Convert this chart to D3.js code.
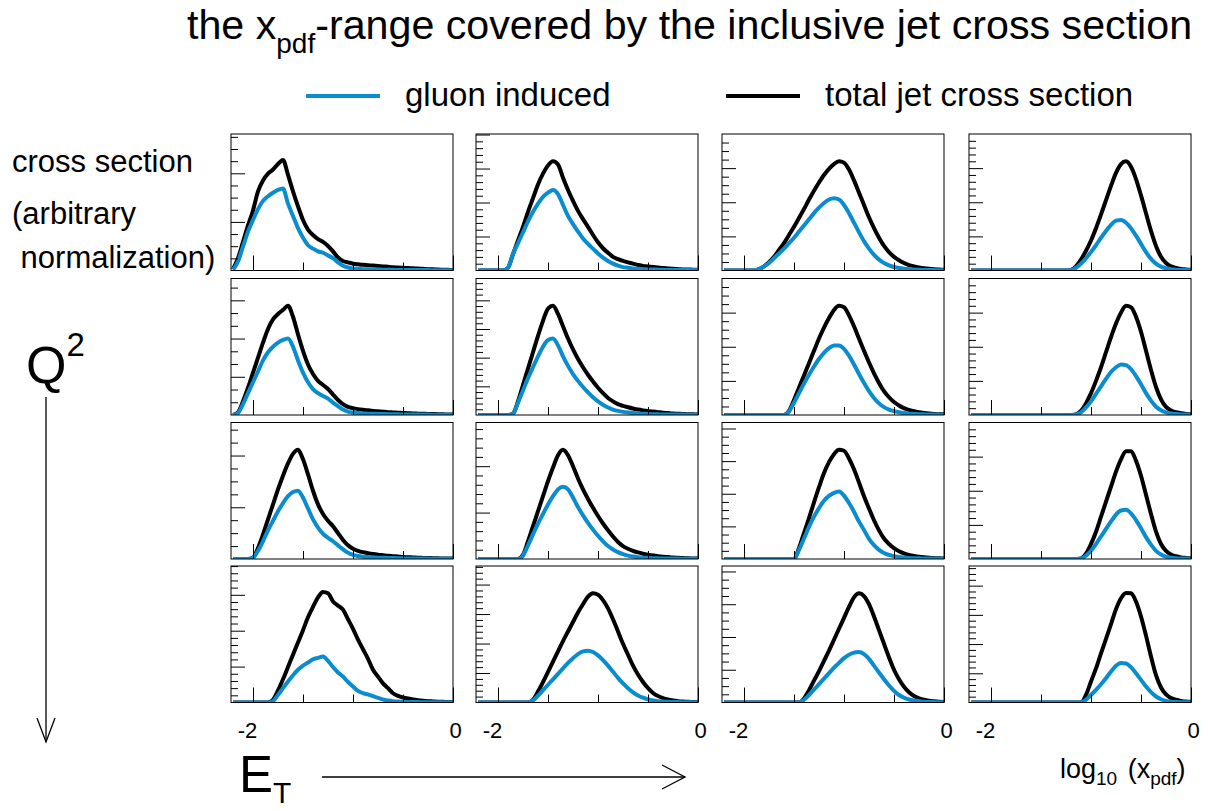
<!DOCTYPE html>
<html>
<head>
<meta charset="utf-8">
<script src="https://cdn.jsdelivr.net/npm/d3@7/dist/d3.min.js"></script>
<style>
  body { margin: 0; background: #fff; }
  svg { display: block; }
  text { font-family: "Liberation Sans", Arial, Helvetica, sans-serif; fill: #000; }
</style>
</head>
<body>
<svg id="chart" width="1208" height="811"></svg>
<script>
// log10(x_pdf) bin centres shared by every panel
const xBins = [-2.2,-2.15,-2.1,-2.05,-2.0,-1.95,-1.9,-1.85,-1.8,-1.75,-1.7,-1.65,-1.6,-1.55,-1.5,
  -1.45,-1.4,-1.35,-1.3,-1.25,-1.2,-1.15,-1.1,-1.05,-1.0,-0.95,-0.9,-0.85,-0.8,-0.75,-0.7,
  -0.65,-0.6,-0.55,-0.5,-0.45,-0.4,-0.35,-0.3,-0.25,-0.2,-0.15,-0.1,-0.05,0.0];

// total jet cross section, panel (Q2 row, ET column), arbitrary normalization
const tot11 = [1,9,21,33,44,58,66,71,74,78,81,70,58,47,37,30,26,23,21,18,14,9.5,7,6,5,4.5,4.2,3.9,3.6,3.3,3.0,2.7,2.4,2.2,2.0,1.8,1.6,1.4,1.2,1.0,0.9,0.7,0.6,0.5,0.4];
const tot12 = [0,0,0,0,0,0,2,12,22,32,43,53,63,71,77,80,77.6,68,59,51,43.7,37.6,32,26,20.7,16.3,13,10,8.3,7,6,5,4,3.4,3,2.6,2.2,1.8,1.5,1.2,1.0,0.8,0.7,0.6,0.5];
const tot13 = [0,0,0,0,0,0,0,1,3,6,10,15,20,26,32,38.5,45,52,58.5,64.5,70,74.5,78,80,79,74,66,57,48,39,31,24,18,13.5,10,7.5,5.5,4,3,2.2,1.6,1.2,0.9,0.7,0.5];
const tot14 = [0,0,0,0,0,0,0,0,0,0,0,0,0,0,0,0,0,0,0,0,0.5,3,8,14.5,22,31,41,51.5,62,71.5,78,80,76,67,55,42,29,18,10,5.5,3,1.9,1.2,0.8,0.5];
const tot21 = [0,2,10,20,31,42,53,63,70,74,77,80,72,59,47,37,30,25,22,19,15,11,8,6,5,4.3,3.8,3.4,3,2.7,2.4,2.1,1.9,1.7,1.5,1.3,1.1,1.0,0.9,0.8,0.7,0.6,0.5,0.4,0.3];
const tot22 = [0,0,0,0,0,0,0,1,10,22,34,46,58,69,78,80,74,65,56,48,41,35,29.5,24.5,20,16,12.5,10,8,6.7,5.7,4.8,4,3.4,2.9,2.5,2.1,1.7,1.4,1.1,0.9,0.7,0.6,0.5,0.4];
const tot23 = [0,0,0,0,0,0,0,0,0,0,0,0,0,3,11,20,29,38,47,56,64,71,77,80,79,73,65,56,47,38.5,30.5,23.5,17.5,13,9.5,7,5,3.7,2.7,2,1.5,1.1,0.8,0.6,0.5];
const tot24 = [0,0,0,0,0,0,0,0,0,0,0,0,0,0,0,0,0,0,0,0,0,0.5,3,8.5,16,25,35,46,57,67,75,80,79,72,61,47,33,20.5,11.5,6,3.3,2,1.3,0.8,0.5];
const tot31 = [0,0,0,0,1,8,18,29,40,51,61,70,77,80,73,62,50,40,33,28,24,19,14,10,7.5,6,5,4.3,3.7,3.2,2.8,2.4,2.1,1.8,1.5,1.3,1.1,0.9,0.8,0.7,0.6,0.5,0.4,0.3,0.3];
const tot32 = [0,0,0,0,0,0,0,0,0,3,13,24,35,46,57,67,76,80,76,68,59,51,44,37.5,31.5,26,21,16.5,12.5,9.5,7.5,6,4.8,3.9,3.2,2.6,2.1,1.7,1.4,1.1,0.9,0.7,0.5,0.4,0.3];
const tot33 = [0,0,0,0,0,0,0,0,0,0,0,0,0,0,0,8,19,30,41.5,52.6,63,71,76.8,80,79.3,73.6,65.7,56,46,37,28.4,21,15,11,8,5.7,4.2,3,2.2,1.6,1.2,0.9,0.7,0.5,0.4];
const tot34 = [0,0,0,0,0,0,0,0,0,0,0,0,0,0,0,0,0,0,0,0,0,0,0.5,4,11,20,31,42,53,64,73,79,79,72,61,47,33,20,11,6,3.3,2,1.2,0.8,0.5];
const tot41 = [0,0,0,0,0,0,0,0,2,8.8,17,26,35,44,53,62.5,70,77,81,80,74,71,68,61,54,46,39,32,24,19,14,10.5,6.8,4.9,3.7,2.9,2.2,1.7,1.3,1.0,0.8,0.6,0.5,0.4,0.3];
const tot42 = [0,0,0,0,0,0,0,0,0,0,0,2,8,15,22.5,30,37.5,45,52,59,66,72,77.5,80,79,75,69,61,52,43,35,27,20.5,15,10.5,7,4.7,3.2,2.2,1.5,1.0,0.7,0.5,0.4,0.3];
const tot43 = [0,0,0,0,0,0,0,0,0,0,0,0,0,0,0,0,3,9,16,23,30.5,38,46,54,62,70,77,80,78,72,63,53,43,33,24,17,11.5,7.5,4.8,3.1,2,1.3,0.9,0.6,0.4];
const tot44 = [0,0,0,0,0,0,0,0,0,0,0,0,0,0,0,0,0,0,0,0,0,0,0,5.6,15.4,25,36,46.6,57.4,68.4,76.4,80.3,80,74,63,49,33.7,20,11,5.9,3.2,2,1.2,0.7,0.5];

// gluon-induced part of the same cross sections
const glu11 = [0.5,6.6,17.6,28.5,37,45,51,54.4,57,59,60,49,40,31,24,18.5,16,14,13,11,9,6,3.5,2.2,1.5,1.2,1.0,0.9,0.8,0.7,0.6,0.5,0.5,0.4,0.4,0.4,0.3,0.3,0.3,0.3,0.2,0.2,0.2,0.2,0.2];
const glu12 = [0,0,0,0,0,0,2,12,20,28,36,43,49,54,57,59,56,48,40,34,28.5,23.5,19.5,16,12.5,9.5,7,5,3.5,2.5,2,1.5,1.2,1.0,0.8,0.7,0.6,0.5,0.4,0.4,0.3,0.3,0.3,0.3,0.3];
const glu13 = [0,0,0,0,0,0,0,1,3,5.5,9,12.5,16,20,24,28.5,33,37.5,42,46,49.5,52,53,52,48,42,35,28,21.5,16,11.5,8,5.5,3.8,2.6,1.8,1.3,1.0,0.7,0.5,0.4,0.3,0.3,0.2,0.2];
const glu14 = [0,0,0,0,0,0,0,0,0,0,0,0,0,0,0,0,0,0,0,0,0.3,2,5,9,13.5,18.5,24,29,33.5,36.5,37,35,31,25.5,19.5,13.5,8.5,5,2.8,1.6,1,0.6,0.4,0.3,0.2];
const glu21 = [0,1.5,8,16,24,32,40,46,50,53,55,56,50,40,31,24,19,16,14,12,9,6.5,4,2.5,1.8,1.4,1.1,1,0.9,0.8,0.7,0.6,0.5,0.5,0.4,0.4,0.3,0.3,0.3,0.3,0.2,0.2,0.2,0.2,0.2];
const glu22 = [0,0,0,0,0,0,0,1,9,18,27,35,43,50,55,56,51,43,36,30,25,20.5,16.5,13,10,7.5,5.5,4,3,2.3,1.8,1.4,1.1,0.9,0.7,0.6,0.5,0.4,0.4,0.3,0.3,0.3,0.2,0.2,0.2];
const glu23 = [0,0,0,0,0,0,0,0,0,0,0,0,0,2.5,9,16,23,29.5,35.5,41,45.5,49,51,51,48.5,43.5,37,30,23.5,17.5,12.5,8.5,5.8,4,2.8,2,1.4,1,0.8,0.6,0.5,0.4,0.3,0.2,0.2];
const glu24 = [0,0,0,0,0,0,0,0,0,0,0,0,0,0,0,0,0,0,0,0,0,0.3,2,5.5,10,15.5,21,26.5,31.5,35,37,36.5,33.5,28.5,22.5,16,10.5,6,3.4,1.9,1.1,0.7,0.4,0.3,0.2];
const glu31 = [0,0,0,0,1,6,13,21,28,35,41,46,49,50,45,37,29,23,18.5,15.5,13,10,7,4.5,3,2.2,1.7,1.4,1.2,1,0.9,0.8,0.7,0.6,0.5,0.4,0.4,0.3,0.3,0.3,0.2,0.2,0.2,0.2,0.2];
const glu32 = [0,0,0,0,0,0,0,0,0,2.5,10,18,26,33,40,46,51,53,51,45,38,32,26.5,21.5,17,13,9.5,7,5,3.5,2.5,1.8,1.3,1.0,0.8,0.6,0.5,0.4,0.4,0.3,0.3,0.2,0.2,0.2,0.2];
const glu33 = [0,0,0,0,0,0,0,0,0,0,0,0,0,0,0,6.7,15,23.5,31,37.3,42.7,46.2,48.4,49.4,46.4,41,34.6,27.4,21.2,14.8,10.1,6.7,4.4,3,2,1.5,1.1,0.8,0.6,0.5,0.4,0.3,0.3,0.2,0.2];
const glu34 = [0,0,0,0,0,0,0,0,0,0,0,0,0,0,0,0,0,0,0,0,0,0,0.3,2.5,6,11,16.5,22,27.5,32.5,35.5,36,33.5,28.5,22.5,16,10.5,6,3.3,1.8,1,0.6,0.4,0.3,0.2];
const glu41 = [0,0,0,0,0,0,0,0,1,5.6,10.5,15.4,20,24,27,29.3,31.7,32.7,33.7,30.5,26,22,19,15,11.7,8.5,6.8,5.9,4.6,3.4,2.2,1.5,1.0,0.7,0.5,0.4,0.3,0.3,0.2,0.2,0.2,0.2,0.2,0.2,0.2];
const glu42 = [0,0,0,0,0,0,0,0,0,0,0,1.5,5,9,13,17,21,25,29,32.5,35.5,37.5,38,37,34.5,31,27,22.5,18,14,10.5,7.5,5.2,3.5,2.3,1.5,1.0,0.7,0.5,0.4,0.3,0.2,0.2,0.1,0.1];
const glu43 = [0,0,0,0,0,0,0,0,0,0,0,0,0,0,0,0,2,5.5,9.5,13.5,17.5,21.5,25.5,29,32.5,35,36.5,37,35.5,32,27,22,17,12.5,8.5,5.5,3.5,2.2,1.4,0.9,0.6,0.4,0.3,0.2,0.1];
const glu44 = [0,0,0,0,0,0,0,0,0,0,0,0,0,0,0,0,0,0,0,0,0,0,0,2,5.6,9.3,13.4,17.8,22.7,26.9,29,28.6,25.9,21.5,16.6,11.7,7.6,4.4,2.4,1.2,0.6,0.3,0.2,0.1,0.1];

const totalSeries = [[tot11,tot12,tot13,tot14],[tot21,tot22,tot23,tot24],[tot31,tot32,tot33,tot34],[tot41,tot42,tot43,tot44]];
const gluonSeries = [[glu11,glu12,glu13,glu14],[glu21,glu22,glu23,glu24],[glu31,glu32,glu33,glu34],[glu41,glu42,glu43,glu44]];

// y-axis tick spacing of each panel (major step, number of minor divisions)
const yMajorStep = [[35.6,24.9,25,25],[28,21,25,25],[37.9,34,23.9,25],[26.3,21.6,24,21.4]];
const yMinorDiv  = [[4,5,4,5],[3,5,4,5],[4,5,4,5],[5,5,4,5]];

const xTickMajor = [-2, 0];
const xTickMinor = [-1.5, -1, -0.5];
const xTickLabels = ["-2", "0"];

const legendLabels = ["gluon induced", "total jet cross section"];
const yLabelLines = ["cross section", "(arbitrary", " normalization)"];

// ---------------------------------------------------------------- layout
const svg = d3.select("#chart");
const colLeft = [231, 476, 722, 969];
const rowTop = [134, 278.5, 422.5, 566];
const panelW = 222, panelH = 136.5;
const blue = "#0a8dcf";

const x = d3.scaleLinear().domain([-2.22, 0]).range([0, panelW]);
const y = d3.scaleLinear().domain([0, 100]).range([panelH, 0]);

const line = d3.line()
  .x((d, i) => x(xBins[i]))
  .y(d => y(d))
  .curve(d3.curveMonotoneX);

const defs = svg.append("defs");
defs.append("clipPath").attr("id", "frameClip")
  .append("rect").attr("x", 0).attr("y", 0).attr("width", panelW).attr("height", panelH);

for (let r = 0; r < 4; r++) {
  for (let c = 0; c < 4; c++) {
    const g = svg.append("g").attr("transform", `translate(${colLeft[c]},${rowTop[r]})`);

    const curves = g.append("g").attr("clip-path", "url(#frameClip)");
    curves.append("path").datum(totalSeries[r][c])
      .attr("d", line).attr("fill", "none").attr("stroke", "#000")
      .attr("stroke-width", 4).attr("stroke-linejoin", "round");
    curves.append("path").datum(gluonSeries[r][c])
      .attr("d", line).attr("fill", "none").attr("stroke", blue)
      .attr("stroke-width", 4).attr("stroke-linejoin", "round");

    // y ticks (no labels)
    const step = yMajorStep[r][c], div = yMinorDiv[r][c];
    const minorVals = [], majorVals = [];
    for (let k = 1; k * step / div < 100; k++) {
      if (k % div === 0) majorVals.push(k * step / div); else minorVals.push(k * step / div);
    }
    const yMinorAxis = d3.axisRight(y).tickValues(minorVals).tickSize(7).tickFormat("");
    const yMajorAxis = d3.axisRight(y).tickValues(majorVals).tickSize(14).tickFormat("");
    g.append("g").call(yMinorAxis).call(a => a.select(".domain").remove());
    g.append("g").call(yMajorAxis).call(a => a.select(".domain").remove());

    // x ticks, pointing into the frame
    const xMajorAxis = d3.axisTop(x).tickValues(xTickMajor).tickSize(15).tickFormat("");
    const xMinorAxis = d3.axisTop(x).tickValues(xTickMinor).tickSize(8).tickFormat("");
    g.append("g").attr("transform", `translate(0,${panelH})`).call(xMajorAxis).call(a => a.select(".domain").remove());
    g.append("g").attr("transform", `translate(0,${panelH})`).call(xMinorAxis).call(a => a.select(".domain").remove());

    g.selectAll(".tick line").attr("stroke", "#000").attr("stroke-width", 1);

    g.append("rect").attr("width", panelW).attr("height", panelH)
      .attr("fill", "none").attr("stroke", "#000").attr("stroke-width", 1);

    if (r === 3) {
      const labAxis = d3.axisBottom(x).tickValues(xTickMajor).tickSize(0).tickPadding(20)
        .tickFormat((d, i) => xTickLabels[i]);
      const la = g.append("g").attr("transform", `translate(0,${panelH})`).call(labAxis);
      la.select(".domain").remove();
      la.selectAll("text").attr("font-size", 22).attr("font-family", null)
        .attr("dx", d => d < 0 ? -6 : 2);
    }
  }
}

// title
const title = svg.append("text").attr("x", 187).attr("y", 39).attr("font-size", 41.2);
title.append("tspan").text("the x");
title.append("tspan").attr("font-size", 28).attr("dy", 14).text("pdf");
title.append("tspan").attr("dy", -14).text("-range covered by the inclusive jet cross section");

// legend
const legendColors = [blue, "#000"];
const legendX = [306, 726];
legendLabels.forEach((lab, i) => {
  svg.append("line").attr("x1", legendX[i]).attr("x2", legendX[i] + 74)
    .attr("y1", 96).attr("y2", 96).attr("stroke", legendColors[i]).attr("stroke-width", 4);
  svg.append("text").attr("x", legendX[i] + 99).attr("y", 106).attr("font-size", 33).text(lab);
});

// y label
const yLabY = [172, 224, 268];
yLabelLines.forEach((t, i) => {
  svg.append("text").attr("x", 12).attr("y", yLabY[i]).attr("font-size", 31)
    .attr("xml:space", "preserve").style("white-space", "pre").text(t);
});

// Q^2 arrow
const q = svg.append("text").attr("x", 26).attr("y", 383).attr("font-size", 52);
q.append("tspan").text("Q");
q.append("tspan").attr("font-size", 33).attr("dy", -27).text("2");
svg.append("line").attr("x1", 46).attr("x2", 46).attr("y1", 397).attr("y2", 742)
  .attr("stroke", "#000").attr("stroke-width", 1.3);
svg.append("path").attr("d", "M37,718 L46,742 L55,718").attr("fill", "none")
  .attr("stroke", "#000").attr("stroke-width", 1.3);

// E_T arrow
const et = svg.append("text").attr("x", 239).attr("y", 792).attr("font-size", 51);
et.append("tspan").text("E");
et.append("tspan").attr("font-size", 30).attr("dy", 11).text("T");
svg.append("line").attr("x1", 322).attr("x2", 685).attr("y1", 777).attr("y2", 777)
  .attr("stroke", "#000").attr("stroke-width", 1.3);
svg.append("path").attr("d", "M662,765 L685,777 L662,789").attr("fill", "none")
  .attr("stroke", "#000").attr("stroke-width", 1.3);

// x axis title
const xt = svg.append("text").attr("x", 1060).attr("y", 778).attr("font-size", 27);
xt.append("tspan").text("log");
xt.append("tspan").attr("font-size", 19).attr("dy", 7).text("10");
xt.append("tspan").attr("dy", -7).attr("dx", 3).text(" (x");
xt.append("tspan").attr("font-size", 19).attr("dy", 7).text("pdf");
xt.append("tspan").attr("dy", -7).text(")");
</script>
</body>
</html>
